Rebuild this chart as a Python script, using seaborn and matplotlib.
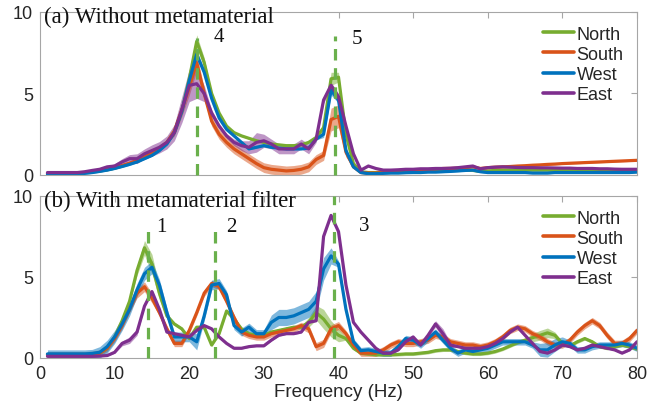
import numpy as np
import pandas as pd
import matplotlib
matplotlib.use("Agg")
import matplotlib.pyplot as plt
import seaborn as sns

# ── Data ───────────────────────────────────────────────────────────────────────
freq = list(range(1, 81))
directions = ["North", "South", "West", "East"]
colors = {"North": "#77AC30", "South": "#D95319", "West": "#0072BD", "East": "#7E2F8E"}

# (a) Without metamaterial
north_a = [0.10, 0.10, 0.10, 0.10, 0.12, 0.15, 0.20, 0.25, 0.32, 0.42,
           0.55, 0.70, 0.85, 1.05, 1.25, 1.55, 1.95, 2.60, 3.90, 5.90,
           8.20, 6.90, 5.00, 3.80, 3.00, 2.60, 2.40, 2.25, 2.10, 2.00,
           1.90, 1.85, 1.80, 1.80, 1.85, 2.00, 2.30, 2.90, 5.90, 6.00,
           2.50, 0.70, 0.20, 0.15, 0.15, 0.18, 0.20, 0.20, 0.22, 0.22,
           0.25, 0.25, 0.25, 0.28, 0.30, 0.30, 0.32, 0.28, 0.22, 0.25,
           0.28, 0.30, 0.30, 0.30, 0.30, 0.30, 0.30, 0.30, 0.28, 0.28,
           0.28, 0.25, 0.25, 0.25, 0.25, 0.25, 0.25, 0.25, 0.25, 0.25]
south_a = [0.10, 0.10, 0.10, 0.10, 0.12, 0.15, 0.20, 0.28, 0.35, 0.45,
           0.58, 0.72, 0.90, 1.10, 1.35, 1.65, 2.00, 2.70, 4.00, 5.40,
           6.90, 5.00, 3.30, 2.50, 2.00, 1.60, 1.30, 1.00, 0.70, 0.45,
           0.35, 0.30, 0.25, 0.28, 0.35, 0.50, 0.95, 1.20, 3.40, 3.60,
           1.40, 0.50, 0.15, 0.12, 0.12, 0.15, 0.20, 0.22, 0.25, 0.28,
           0.30, 0.32, 0.35, 0.40, 0.40, 0.42, 0.45, 0.50, 0.40, 0.45,
           0.48, 0.50, 0.52, 0.55, 0.57, 0.60, 0.62, 0.65, 0.67, 0.70,
           0.72, 0.74, 0.76, 0.78, 0.80, 0.82, 0.84, 0.86, 0.88, 0.90]
west_a = [0.05, 0.05, 0.05, 0.05, 0.07, 0.10, 0.15, 0.22, 0.30, 0.40,
          0.52, 0.65, 0.80, 1.00, 1.20, 1.50, 1.90, 2.60, 3.90, 5.80,
          7.40, 6.30, 4.70, 3.50, 2.80, 2.40, 2.00, 1.60, 1.70, 1.80,
          1.70, 1.65, 1.60, 1.60, 1.60, 1.65, 2.20, 2.50, 5.20, 4.60,
          1.50, 0.50, 0.15, 0.08, 0.08, 0.10, 0.12, 0.12, 0.14, 0.15,
          0.15, 0.18, 0.18, 0.20, 0.22, 0.25, 0.28, 0.30, 0.20, 0.15,
          0.15, 0.15, 0.15, 0.15, 0.15, 0.12, 0.12, 0.12, 0.15, 0.15,
          0.15, 0.15, 0.15, 0.15, 0.15, 0.15, 0.15, 0.15, 0.15, 0.18]
east_a = [0.15, 0.15, 0.15, 0.15, 0.15, 0.20, 0.28, 0.35, 0.50, 0.55,
          0.80, 1.00, 1.00, 1.30, 1.50, 1.70, 2.00, 2.60, 4.00, 5.50,
          5.60, 5.00, 3.80, 3.00, 2.40, 2.00, 1.80, 1.70, 2.00, 2.10,
          1.90, 1.60, 1.60, 1.60, 1.90, 1.60, 2.20, 4.60, 5.50, 4.80,
          3.00, 1.30, 0.30, 0.55, 0.40, 0.30, 0.30, 0.32, 0.35, 0.35,
          0.38, 0.38, 0.40, 0.40, 0.42, 0.45, 0.50, 0.55, 0.38, 0.45,
          0.48, 0.50, 0.48, 0.46, 0.45, 0.45, 0.44, 0.44, 0.43, 0.42,
          0.42, 0.40, 0.40, 0.40, 0.38, 0.38, 0.36, 0.35, 0.35, 0.35]

# half-widths of the shaded bands, panel (a)
north_a_err = [0.05] * 19 + [0.30, 0.40, 0.30] + [0.05] * 15 + [0.30, 0.40, 0.30] + [0.05] * 40
south_a_err = [0.05] * 17 + [0.30, 0.40, 0.50, 0.50, 0.35] + [0.30] * 16 + [0.70, 0.70, 0.30] + [0.05] * 39
west_a_err = [0.05] * 19 + [0.20, 0.25, 0.20] + [0.05] * 15 + [0.20, 0.30, 0.20] + [0.05] * 40
east_a_err = ([0.05] * 9 + [0.15, 0.20, 0.25, 0.30, 0.30, 0.35, 0.35, 0.40, 0.50, 0.80, 1.00,
              0.90, 0.50, 0.20, 0.15, 0.15, 0.20, 0.30, 0.40, 0.60, 0.40,
              0.30, 0.30, 0.30, 0.30, 0.30, 0.30, 0.20, 0.20, 0.20, 0.20] + [0.05] * 40)

# (b) With metamaterial filter
north_b = [0.20, 0.20, 0.20, 0.20, 0.20, 0.20, 0.22, 0.30, 0.60, 1.30,
           2.30, 3.50, 5.40, 6.80, 5.80, 4.00, 2.60, 2.10, 1.80, 1.20,
           1.90, 1.90, 0.80, 1.50, 2.90, 2.40, 1.80, 1.50, 1.40, 1.40,
           1.60, 1.70, 1.80, 1.90, 1.90, 2.20, 2.80, 2.40, 1.80, 1.40,
           1.20, 0.60, 0.30, 0.25, 0.20, 0.20, 0.20, 0.22, 0.25, 0.25,
           0.30, 0.35, 0.45, 0.50, 0.50, 0.40, 0.30, 0.25, 0.25, 0.30,
           0.40, 0.55, 0.75, 0.95, 1.10, 1.25, 1.40, 1.55, 1.40, 0.90,
           0.75, 1.00, 1.20, 1.00, 0.70, 0.60, 0.70, 0.80, 0.70, 0.55]
south_b = [0.20, 0.20, 0.20, 0.20, 0.20, 0.20, 0.22, 0.30, 0.60, 1.20,
           2.00, 3.00, 4.00, 4.40, 3.70, 2.80, 1.80, 0.90, 0.90, 1.70,
           2.80, 4.00, 4.60, 4.40, 3.50, 2.50, 1.60, 1.40, 1.30, 1.30,
           1.50, 1.60, 1.70, 1.80, 2.00, 1.80, 0.70, 0.90, 1.80, 2.00,
           1.50, 0.80, 0.30, 0.30, 0.30, 0.50, 0.80, 1.00, 0.90, 0.90,
           1.00, 1.10, 1.40, 1.30, 1.00, 0.90, 0.80, 0.80, 0.70, 0.80,
           1.00, 1.30, 1.70, 1.90, 1.80, 1.50, 1.30, 1.00, 0.80, 0.80,
           1.10, 1.60, 2.00, 2.30, 2.00, 1.40, 0.90, 0.90, 1.20, 1.70]
west_b = [0.25, 0.25, 0.25, 0.25, 0.25, 0.25, 0.28, 0.35, 0.70, 1.30,
          2.10, 3.00, 4.20, 5.20, 5.60, 4.50, 2.80, 1.30, 1.30, 1.30,
          1.00, 2.60, 4.50, 4.60, 3.90, 2.00, 1.60, 1.90, 1.50, 1.50,
          2.20, 2.50, 2.50, 2.60, 2.80, 3.00, 3.50, 5.50, 6.30, 5.80,
          3.00, 1.00, 0.45, 0.50, 0.40, 0.30, 0.30, 0.70, 1.20, 1.10,
          0.80, 1.20, 1.60, 1.10, 0.60, 0.30, 0.50, 0.40, 0.50, 0.60,
          0.80, 1.00, 1.00, 1.00, 1.00, 0.80, 0.50, 0.50, 0.80, 1.00,
          0.90, 0.50, 0.50, 0.70, 0.80, 0.80, 0.80, 0.90, 0.80, 0.60]
east_b = [0.10, 0.10, 0.10, 0.10, 0.10, 0.10, 0.10, 0.12, 0.15, 0.35,
          0.90, 1.10, 1.60, 3.20, 4.10, 3.00, 1.60, 1.50, 1.40, 1.30,
          1.70, 2.00, 1.80, 1.30, 0.90, 0.60, 0.60, 0.70, 0.75, 0.75,
          1.10, 1.40, 1.50, 1.50, 1.60, 2.20, 2.30, 7.50, 8.80, 7.80,
          4.50, 2.20, 1.60, 1.10, 0.60, 0.30, 0.30, 0.50, 1.00, 1.30,
          0.80, 1.40, 2.10, 1.50, 0.80, 0.70, 0.60, 0.60, 0.60, 0.70,
          0.90, 1.20, 1.60, 1.90, 1.40, 0.90, 0.40, 0.30, 0.50, 0.80,
          0.70, 0.50, 0.60, 0.80, 0.70, 0.60, 0.50, 0.30, 0.50, 1.00]

# half-widths of the shaded bands, panel (b)
north_b_err = ([0.10] * 12 + [0.30, 0.45, 0.60, 0.40, 0.20] + [0.10] * 18
               + [0.30, 0.45, 0.60, 0.50, 0.40] + [0.10] * 25 + [0.25, 0.30, 0.30, 0.20] + [0.10] * 11)
south_b_err = [0.20] * 12 + [0.30, 0.30, 0.30] + [0.20] * 20 + [0.25] * 5 + [0.20] * 40
west_b_err = ([0.25] * 7 + [0.35, 0.40, 0.40, 0.40, 0.40, 0.40, 0.40, 0.40, 0.35] + [0.30] * 4
              + [0.50, 0.30, 0.30, 0.30] + [0.25] * 6 + [0.45, 0.50, 0.50, 0.50, 0.50, 0.50, 0.60, 0.70, 0.50]
              + [0.20] * 27 + [0.40, 0.45, 0.40, 0.30] + [0.20] * 10)
east_b_err = [0.05] * 10 + [0.15, 0.20, 0.20] + [0.05] * 39 + [0.20, 0.30, 0.15] + [0.05] * 25

LABEL_FONT = ["Liberation Serif", "DejaVu Serif"]
TICK_FONT = ["Liberation Sans", "DejaVu Sans"]
GRAY = "#A6A6A6"
DASH_GREEN = "#6AB04C"

sns.set_style("white")
plt.rcParams["font.family"] = TICK_FONT
plt.rcParams["axes.edgecolor"] = GRAY
plt.rcParams["axes.linewidth"] = 0.8


def build_frame(values):
    rows = []
    for name, vals in zip(directions, values):
        rows.append(pd.DataFrame({"freq": freq, "amp": vals, "direction": name}))
    return pd.concat(rows, ignore_index=True)


def draw_panel(ax, values, errs, title, peaks):
    df = build_frame(values)
    for name, vals, err in zip(directions, values, errs):
        v = np.array(vals)
        e = np.array(err)
        ax.fill_between(freq, v - e, v + e, color=colors[name], alpha=0.5,
                        linewidth=0, zorder=1)
    sns.lineplot(data=df, x="freq", y="amp", hue="direction", hue_order=directions,
                 palette=colors, lw=2.3, ax=ax, zorder=2)

    for (x, ytop, label, lx, ly) in peaks:
        ax.plot([x, x], [0, ytop], ls=(0, (3.6, 2.4)), color=DASH_GREEN,
                lw=2.3, zorder=3, clip_on=False)
        ax.text(lx, ly, label, fontsize=15, family=LABEL_FONT, ha="left",
                va="center", color="#111111")

    ax.text(0.6, 9.7, title, fontsize=16.5, family=LABEL_FONT, ha="left",
            va="center", color="#111111", zorder=5)

    ax.set_xlim(0, 80)
    ax.set_ylim(0, 10)
    ax.set_yticks([0, 5, 10])
    ax.set_xticks(range(0, 81, 10))
    ax.tick_params(direction="in", length=4, width=0.8, color=GRAY,
                   labelsize=13, labelcolor="#262626", top=True, right=True, pad=5)
    for s in ax.spines.values():
        s.set_visible(True)
        s.set_color(GRAY)
    ax.set_xlabel("")
    ax.set_ylabel("")
    leg = ax.legend(loc="upper right", frameon=False, fontsize=13,
                    handlelength=1.7, handletextpad=0.15, labelspacing=0.18,
                    borderaxespad=0.35)
    for h in leg.get_lines():
        h.set_linewidth(2.6)


fig = plt.figure(figsize=(6.68, 4.14), dpi=100)
ax_a = fig.add_axes([0.0599, 0.5749, 0.8937, 0.3937])
ax_b = fig.add_axes([0.0599, 0.1329, 0.8937, 0.3913])

draw_panel(ax_a, [north_a, south_a, west_a, east_a],
           [north_a_err, south_a_err, west_a_err, east_a_err],
           "(a) Without metamaterial",
           [(21, 8.4, "4", 23.3, 8.5), (39.5, 8.5, "5", 41.8, 8.4)])
draw_panel(ax_b, [north_b, south_b, west_b, east_b],
           [north_b_err, south_b_err, west_b_err, east_b_err],
           "(b) With metamaterial filter",
           [(14.5, 8.3, "1", 15.6, 8.1), (23.5, 8.3, "2", 24.9, 8.1),
            (39.4, 10.0, "3", 42.8, 8.2)])

ax_a.set_xticklabels([])
ax_b.set_xlabel("Frequency (Hz)", fontsize=13.5, color="#262626", labelpad=1)

fig.savefig("out.png", dpi=100)
